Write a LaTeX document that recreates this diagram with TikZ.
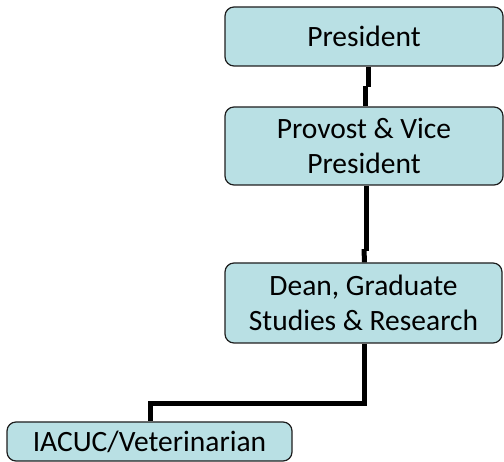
\documentclass[tikz,border=0pt]{standalone}
\usepackage{fontspec}
\setmainfont{Carlito}
\usetikzlibrary{calc}
\definecolor{boxfill}{RGB}{185,224,228}
\definecolor{boxline}{RGB}{30,30,30}
\begin{document}
\begin{tikzpicture}[x=1pt,y=-1pt,
  orgbox/.style={draw=boxline, line width=1.2pt, fill=boxfill, rounded corners=9pt,
    align=center, inner sep=0pt, font=\fontsize{29.5}{35}\selectfont},
  conn/.style={line width=5pt, black}]
\useasboundingbox (0,0) rectangle (504,462);
\node[orgbox, minimum width=278pt, minimum height=59pt] (pres) at (364,36.5) {President};
\node[orgbox, minimum width=278pt, minimum height=78pt] (prov) at (364,146) {Provost \& Vice\\President};
\node[orgbox, minimum width=277pt, minimum height=80pt] (dean) at (363.5,303) {Dean, Graduate\\Studies \& Research};
\node[orgbox, minimum width=285pt, minimum height=39pt] (iacuc) at (149.5,441.5) {IACUC/Veterinarian};
\coordinate (j1) at (368,87);
\coordinate (j2) at (366,250);
\coordinate (m3) at (364.5,404);
\draw[conn] (pres.south -| j1) -- (j1);
\draw[conn] ($(j1)+(-2.5,-1)$) -- ($(prov.north)+(1.5,0)$);
\draw[conn] ($(prov.south)+(2,0)$) -- ($(j2)+(0,1)$);
\draw[conn] ($(j2)+(-2,-1)$) -- (dean.north -| 364.5,0);
\draw[conn] (dean.south -| m3) -- (m3) -| (iacuc.north -| 150.5,0);
\end{tikzpicture}
\end{document}
